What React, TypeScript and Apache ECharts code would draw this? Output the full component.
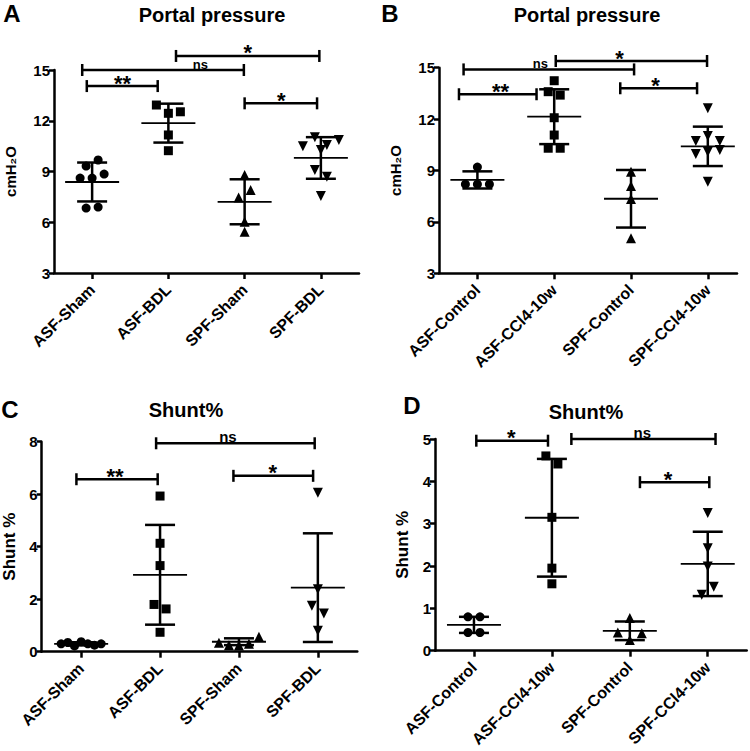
import React, { useEffect, useRef } from "react";
import * as echarts from "echarts";

const FONT = 'Arial, "Liberation Sans", Helvetica, sans-serif';

// ---------- Panel A: Portal pressure (BDL) ----------
const catsA = ["ASF-Sham", "ASF-BDL", "SPF-Sham", "SPF-BDL"];
const aAsfSham = [9.32, 9.68, 8.61, 8.61, 8.85, 6.84, 6.9];
const aAsfBdl = [12.93, 12.44, 12.53, 11.16, 10.23];
const aSpfSham = [8.79, 7.47, 7.9, 6.03, 5.44];
const aSpfBdl = [10.5, 11.02, 10.57, 10.86, 10.27, 9.09, 8.69, 7.55];
const aMeans = [8.38, 11.86, 7.21, 9.8];
const aSds = [1.15, 1.15, 1.33, 1.23];
// bracket: [fromX, toX, yValue, labelX]
const aBrackets = [
  [0.93, 1.86, 14.05, 1.4],
  [0.87, 2.99, 15.0, 2.42],
  [2.1, 3.98, 15.83, 3.04],
  [3.0, 3.95, 13.03, 3.48],
];
const aLabels = ["**", "ns", "*", "*"];

// ---------- Panel B: Portal pressure (CCl4) ----------
const catsB = ["ASF-Control", "ASF-CCl4-10w", "SPF-Control", "SPF-CCl4-10w"];
const bAsfCtl = [9.2, 8.2, 8.2, 8.2];
const bAsfCcl = [14.24, 13.6, 13.4, 12.08, 11.07, 10.3, 10.3];
const bSpfCtl = [8.93, 8.1, 7.34, 5.04];
const bSpfCcl = [12.63, 10.72, 11.01, 10.72, 9.96, 10.1, 10.2, 8.35];
const bMeans = [8.45, 12.14, 7.35, 10.41];
const bSds = [0.5, 1.6, 1.68, 1.15];
const bBrackets = [
  [0.76, 1.77, 13.45, 1.3],
  [0.82, 3.04, 14.9, 1.82],
  [2.02, 3.99, 15.39, 2.85],
  [2.86, 3.86, 13.8, 3.32],
];
const bLabels = ["**", "ns", "*", "*"];

// ---------- Panel C: Shunt% (BDL) ----------
const catsC = ["ASF-Sham", "ASF-BDL", "SPF-Sham", "SPF-BDL"];
const cAsfSham = [0.3, 0.35, 0.22, 0.38, 0.3, 0.25, 0.3];
const cAsfBdl = [5.93, 4.13, 3.28, 1.8, 1.63, 0.74];
const cSpfSham = [0.34, 0.25, 0.24, 0.3, 0.57];
const cSpfBdl = [6.06, 2.38, 1.75, 1.46, 0.8];
const cMeans = [0.3, 2.93, 0.38, 2.44];
const cSds = [0.06, 1.9, 0.13, 2.07];
const cBrackets = [
  [1.95, 3.96, 7.94, 2.86],
  [0.94, 1.97, 6.57, 1.43],
  [2.93, 3.94, 6.7, 3.43],
];
const cLabels = ["ns", "**", "*"];

// ---------- Panel D: Shunt% (CCl4) ----------
const catsD = ["ASF-Control", "ASF-CCl4-10w", "SPF-Control", "SPF-CCl4-10w"];
const dAsfCtl = [0.8, 0.8, 0.43, 0.43];
const dAsfCcl = [4.6, 4.41, 3.15, 1.95, 1.58];
const dSpfCtl = [0.77, 0.43, 0.25, 0.41];
const dSpfCcl = [3.25, 2.42, 1.99, 1.32, 1.51];
const dMeans = [0.61, 3.14, 0.47, 2.05];
const dSds = [0.19, 1.39, 0.22, 0.76];
const dBrackets = [
  [1.03, 1.95, 4.96, 1.48],
  [2.25, 4.1, 5.0, 3.16],
  [3.13, 4.02, 3.98, 3.49],
];
const dLabels = ["*", "ns", "*"];

const SYMBOLS = ["circle", "rect", "triangle", "triangle"];
const ROTATE = [0, 0, 0, 180];
const SIZES = [9, 9, 10, 10];

type Panel = {
  letter: string;
  title: string;
  yName: string;
  cats: string[];
  groups: number[][];
  means: number[];
  sds: number[];
  brackets: number[][];
  labels: string[];
  yMin: number;
  yMax: number;
  yInterval: number;
  xMax: number;
  grid: { left: number; top: number; width: number; height: number };
  nameGap: number;
  nameSize: number;
  letterPos: [number, number];
  titlePos: [number, number];
  nsSize: number;
};

const panels: Panel[] = [
  {
    letter: "A", title: "Portal pressure", yName: "cmH\u2082O", cats: catsA,
    groups: [aAsfSham, aAsfBdl, aSpfSham, aSpfBdl], means: aMeans, sds: aSds,
    brackets: aBrackets, labels: aLabels, yMin: 3, yMax: 15, yInterval: 3, xMax: 4.5,
    grid: { left: 54, top: 70, width: 305, height: 203 }, nameGap: 36, nameSize: 15,
    letterPos: [12, 13], titlePos: [212, 15], nsSize: 13,
  },
  {
    letter: "B", title: "Portal pressure", yName: "cmH\u2082O", cats: catsB,
    groups: [bAsfCtl, bAsfCcl, bSpfCtl, bSpfCcl], means: bMeans, sds: bSds,
    brackets: bBrackets, labels: bLabels, yMin: 3, yMax: 15, yInterval: 3, xMax: 4.38,
    grid: { left: 439, top: 67.7, width: 298, height: 205.6 }, nameGap: 36, nameSize: 15,
    letterPos: [390, 13], titlePos: [587, 15], nsSize: 13,
  },
  {
    letter: "C", title: "Shunt%", yName: "Shunt %", cats: catsC,
    groups: [cAsfSham, cAsfBdl, cSpfSham, cSpfBdl], means: cMeans, sds: cSds,
    brackets: cBrackets, labels: cLabels, yMin: 0, yMax: 8, yInterval: 2, xMax: 4.5,
    grid: { left: 41.7, top: 441.7, width: 315.6, height: 210 }, nameGap: 24, nameSize: 17,
    letterPos: [10, 409], titlePos: [186, 410], nsSize: 15,
  },
  {
    letter: "D", title: "Shunt%", yName: "Shunt %", cats: catsD,
    groups: [dAsfCtl, dAsfCcl, dSpfCtl, dSpfCcl], means: dMeans, sds: dSds,
    brackets: dBrackets, labels: dLabels, yMin: 0, yMax: 5, yInterval: 1, xMax: 4.5,
    grid: { left: 435, top: 439, width: 311.7, height: 211.7 }, nameGap: 24, nameSize: 17,
    letterPos: [412, 405], titlePos: [586, 412], nsSize: 15,
  },
];

// spread points that sit at nearly the same height (GraphPad-style rows)
function jitter(vals: number[], pxPerUnit: number, pxPerBand: number): number[] {
  const order = vals.map((_, i) => i).sort((a, b) => vals[b] - vals[a]);
  const offs = new Array(vals.length).fill(0);
  let i = 0;
  while (i < order.length) {
    const start = vals[order[i]];
    const row = [order[i]];
    let j = i + 1;
    while (j < order.length && (start - vals[order[j]]) * pxPerUnit < 9) {
      row.push(order[j]);
      j++;
    }
    row.sort((a, b) => a - b);
    const n = row.length;
    const step = n > 1 ? Math.min(12, 40 / (n - 1)) : 0;
    row.forEach((k, r) => {
      offs[k] = ((r - (n - 1) / 2) * step) / pxPerBand;
    });
    i = j;
  }
  return offs;
}

function buildOption() {
  const grids: any[] = [];
  const xAxes: any[] = [];
  const yAxes: any[] = [];
  const series: any[] = [];
  const graphics: any[] = [];

  panels.forEach((p, pi) => {
    grids.push({ ...p.grid, containLabel: false, outerBoundsMode: "none" });
    xAxes.push({
      type: "value",
      gridIndex: pi,
      min: 0.5,
      max: p.xMax,
      splitLine: { show: false },
      axisLine: { show: true, onZero: false, lineStyle: { color: "#000", width: 2.5 } },
      axisTick: { show: true, customValues: [1, 2, 3, 4], length: 6, lineStyle: { color: "#000", width: 2.5 } },
      axisLabel: {
        customValues: [1, 2, 3, 4],
        formatter: (v: number) => p.cats[Math.round(v) - 1] || "",
        rotate: 45,
        margin: 14,
        color: "#000",
        fontWeight: "bold",
        fontSize: 16,
        fontFamily: FONT,
      },
    });
    yAxes.push({
      type: "value",
      gridIndex: pi,
      min: p.yMin,
      max: p.yMax,
      interval: p.yInterval,
      name: p.yName,
      nameLocation: "middle",
      nameRotate: 90,
      nameGap: p.nameGap,
      nameTextStyle: { color: "#000", fontWeight: "bold", fontSize: p.nameSize, fontFamily: FONT },
      splitLine: { show: false },
      axisLine: { show: true, lineStyle: { color: "#000", width: 2.5 } },
      axisTick: { show: true, length: 5, lineStyle: { color: "#000", width: 2.5 } },
      axisLabel: { color: "#000", fontWeight: "bold", fontSize: 15, fontFamily: FONT, margin: 4 },
    });

    const pxPerUnit = p.grid.height / (p.yMax - p.yMin);
    const pxPerBand = p.grid.width / (p.xMax - 0.5);

    p.groups.forEach((vals, gi) => {
      const offs = jitter(vals, pxPerUnit, pxPerBand);
      series.push({
        type: "scatter",
        xAxisIndex: pi,
        yAxisIndex: pi,
        symbol: SYMBOLS[gi],
        symbolRotate: ROTATE[gi],
        symbolSize: SIZES[gi],
        itemStyle: { color: "#000", opacity: 1 },
        silent: true,
        z: 2,
        data: vals.map((v, i) => [gi + 1 + offs[i], v]),
      });
    });

    series.push({
      type: "custom",
      xAxisIndex: pi,
      yAxisIndex: pi,
      silent: true,
      z: 3,
      clip: false,
      encode: { x: 0, y: 1 },
      data: p.means.map((m, i) => [i + 1, m, p.sds[i]]),
      renderItem: (params: any, api: any) => {
        const x = api.value(0);
        const m = api.value(1);
        const s = api.value(2);
        const c = api.coord([x, m]);
        const t = api.coord([x, m + s]);
        const b = api.coord([x, m - s]);
        const st = { stroke: "#000", lineWidth: 2.5 };
        return {
          type: "group",
          children: [
            { type: "line", shape: { x1: c[0], y1: t[1], x2: c[0], y2: b[1] }, style: st },
            { type: "line", shape: { x1: c[0] - 15, y1: t[1], x2: c[0] + 15, y2: t[1] }, style: st },
            { type: "line", shape: { x1: c[0] - 15, y1: b[1], x2: c[0] + 15, y2: b[1] }, style: st },
            { type: "line", shape: { x1: c[0] - 27, y1: c[1], x2: c[0] + 27, y2: c[1] }, style: { stroke: "#000", lineWidth: 1.8 } },
          ],
        };
      },
    });

    series.push({
      type: "custom",
      xAxisIndex: pi,
      yAxisIndex: pi,
      silent: true,
      z: 4,
      clip: false,
      encode: { x: [0, 1, 3], y: 2 },
      data: p.brackets,
      renderItem: (params: any, api: any) => {
        const x1 = api.value(0);
        const x2 = api.value(1);
        const y = api.value(2);
        const lx = api.value(3);
        const a = api.coord([x1, y]);
        const b = api.coord([x2, y]);
        const l = api.coord([lx, y]);
        const label = p.labels[params.dataIndex];
        const isNs = label === "ns";
        const st = { stroke: "#000", lineWidth: 2.5 };
        return {
          type: "group",
          children: [
            { type: "line", shape: { x1: a[0], y1: a[1], x2: b[0], y2: b[1] }, style: st },
            { type: "line", shape: { x1: a[0], y1: a[1] - 6, x2: a[0], y2: a[1] + 6 }, style: st },
            { type: "line", shape: { x1: b[0], y1: b[1] - 6, x2: b[0], y2: b[1] + 6 }, style: st },
            {
              type: "text",
              x: l[0],
              y: isNs ? a[1] + 1 : a[1] - 3,
              style: {
                text: label,
                fill: "#000",
                fontWeight: "bold",
                fontFamily: FONT,
                fontSize: isNs ? p.nsSize : 22,
                align: "center",
                verticalAlign: isNs ? "bottom" : "middle",
              },
            },
          ],
        };
      },
    });

    graphics.push({
      type: "text",
      x: p.letterPos[0],
      y: p.letterPos[1],
      style: { text: p.letter, fill: "#000", fontWeight: "bold", fontSize: 24, fontFamily: FONT, align: "center", verticalAlign: "middle" },
    });
    graphics.push({
      type: "text",
      x: p.titlePos[0],
      y: p.titlePos[1],
      style: { text: p.title, fill: "#000", fontWeight: "bold", fontSize: 20, fontFamily: FONT, align: "center", verticalAlign: "middle" },
    });
  });

  return {
    animation: false,
    backgroundColor: "#fff",
    grid: grids,
    xAxis: xAxes,
    yAxis: yAxes,
    series,
    graphic: graphics,
  };
}

export default function App() {
  const ref = useRef<HTMLDivElement>(null);
  useEffect(() => {
    if (!ref.current) return;
    const chart = echarts.init(ref.current, undefined, { renderer: "svg" });
    chart.setOption(buildOption() as any);
    return () => chart.dispose();
  }, []);
  return (
    <div
      ref={ref}
      style={{ position: "fixed", left: 0, top: 0, width: 750, height: 751, background: "#fff" }}
    />
  );
}
